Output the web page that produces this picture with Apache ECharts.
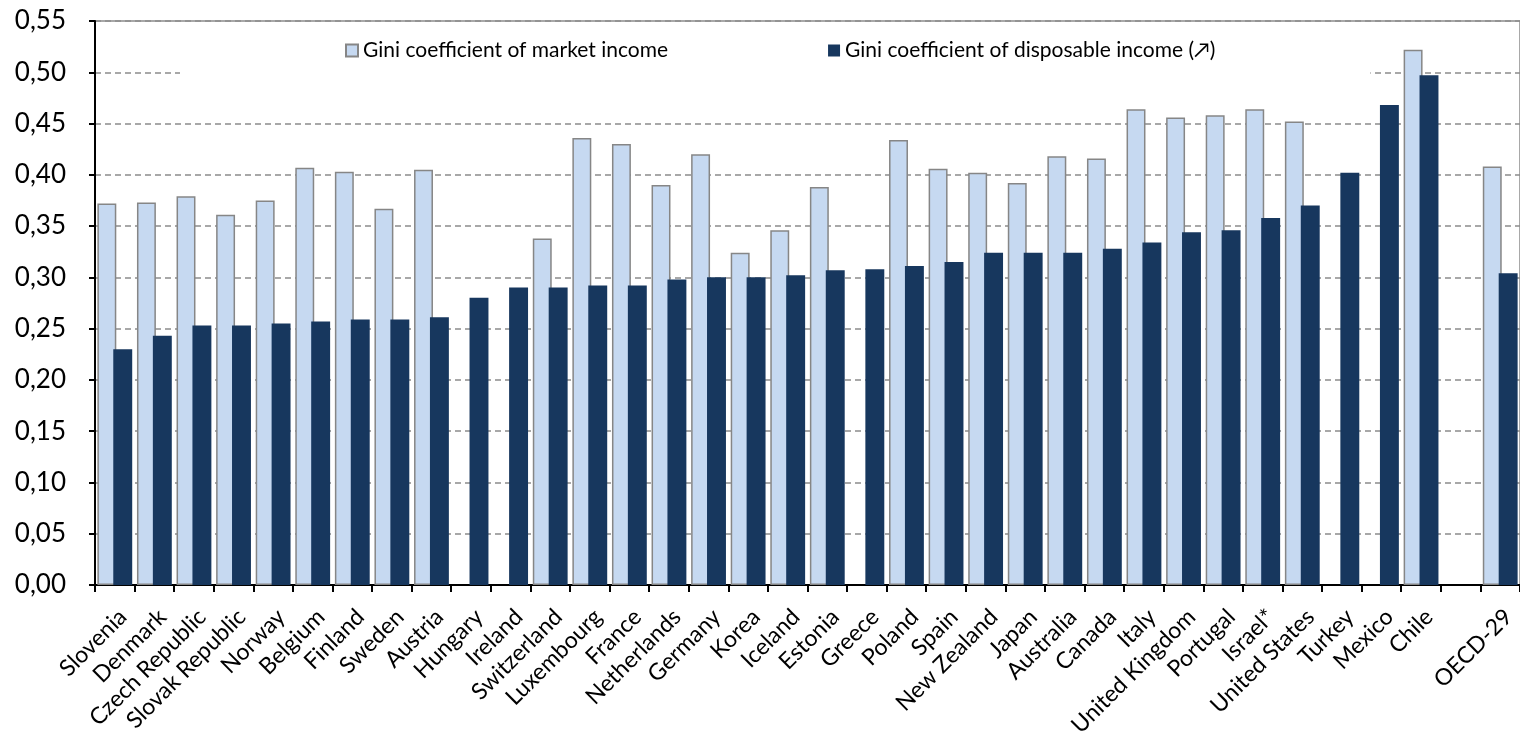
<!DOCTYPE html>
<html>
<head>
<meta charset="utf-8">
<script src="https://cdn.jsdelivr.net/npm/echarts@6/dist/echarts.min.js"></script>
<style>
html,body{margin:0;padding:0;background:#fff;}
#chart{width:1520px;height:746px;}
</style>
</head>
<body>
<div id="chart"></div>
<script>
const categories = ["Slovenia","Denmark","Czech Republic","Slovak Republic","Norway","Belgium","Finland","Sweden","Austria","Hungary","Ireland","Switzerland","Luxembourg","France","Netherlands","Germany","Korea","Iceland","Estonia","Greece","Poland","Spain","New Zealand","Japan","Australia","Canada","Italy","United Kingdom","Portugal","Israel*","United States","Turkey","Mexico","Chile","","OECD-29"];
const marketIncome = [0.372,0.373,0.379,0.361,0.375,0.407,0.403,0.367,0.405,null,null,0.338,0.436,0.430,0.390,0.420,0.324,0.346,0.388,null,0.434,0.406,0.402,0.392,0.418,0.416,0.464,0.456,0.458,0.464,0.452,null,null,0.522,null,0.408];
const disposableIncome = [0.230,0.243,0.253,0.253,0.255,0.257,0.259,0.259,0.261,0.280,0.290,0.290,0.292,0.292,0.298,0.300,0.300,0.302,0.307,0.308,0.311,0.315,0.324,0.324,0.324,0.328,0.334,0.344,0.346,0.358,0.370,0.402,0.468,0.497,null,0.304];
const seriesNames = ["Gini coefficient of market income","Gini coefficient of disposable income (\u2197)"];
const yTicks = {min:0, max:0.55, interval:0.05};

const chart = echarts.init(document.getElementById('chart'), null, {renderer:'canvas'});
const FONT = 'Lato';
chart.setOption({
  animation:false,
  backgroundColor:'#fff',
  textStyle:{fontFamily:FONT},
  grid:{left:95, right:-10, top:21, bottom:161, containLabel:false, show:true, borderColor:'#8c8c8c', borderWidth:1.5, backgroundColor:'transparent'},
  legend:{
    left:180, top:28, orient:'horizontal',
    backgroundColor:'#fff',
    padding:[12,155,30,165],
    itemGap:160, itemWidth:12, itemHeight:12,
    textStyle:{fontFamily:FONT, fontSize:21, color:'#000'},
    data:[
      {name:seriesNames[0], icon:'rect'},
      {name:seriesNames[1], icon:'rect'}
    ]
  },
  xAxis:{
    type:'category', data:categories, boundaryGap:true,
    axisLine:{lineStyle:{color:'#000', width:2}},
    axisTick:{show:true, length:7, lineStyle:{color:'#000', width:2}},
    axisLabel:{rotate:45, interval:0, fontSize:23, color:'#000', margin:20, fontFamily:FONT,
      align:'right', verticalAlign:'top'},
    splitLine:{show:false}
  },
  yAxis:{
    type:'value', min:yTicks.min, max:yTicks.max, interval:yTicks.interval,
    axisLine:{show:true, lineStyle:{color:'#000', width:2}},
    axisTick:{show:true, length:6, lineStyle:{color:'#000', width:2}},
    axisLabel:{fontSize:26, color:'#000', margin:29, fontFamily:FONT,
      formatter:v=>v.toFixed(2).replace('.',',')},
    splitLine:{show:true, lineStyle:{color:'#8c8c8c', width:1.5, type:[6,4]}}
  },
  series:[
    {name:seriesNames[0], type:'bar', data:marketIncome,
     barCategoryGap:'12%', barGap:'-16%',
     itemStyle:{color:'#C6D9F1', borderColor:'#868686', borderWidth:1.5}},
    {name:seriesNames[1], type:'bar', data:disposableIncome,
     barCategoryGap:'12%', barGap:'-16%',
     itemStyle:{color:'#17375E'}}
  ]
});
</script>
</body>
</html>
